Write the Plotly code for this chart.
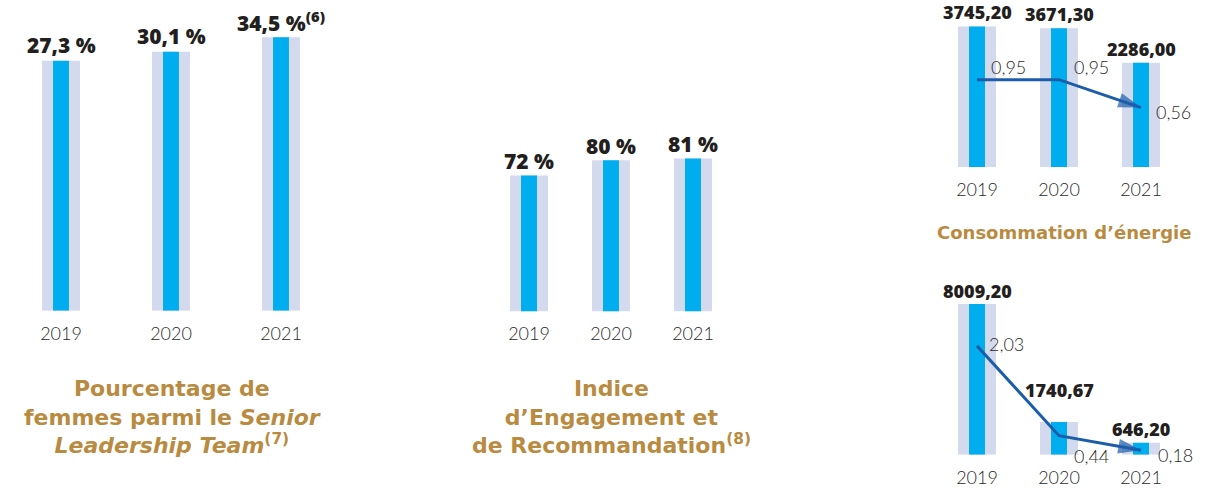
import plotly.graph_objects as go

# ---------------- data ----------------
years = ["2019", "2020", "2021"]

women_slt_pct = [27.3, 30.1, 34.5]          # % women in Senior Leadership Team
women_slt_notes = ["", "", "(6)"]

engagement_pct = [72, 80, 81]                # Engagement & Recommendation index

energy_values = [3745.20, 3671.30, 2286.00]  # Consommation d'énergie
energy_ratio = [0.95, 0.95, 0.56]

panel4_values = [8009.20, 1740.67, 646.20]
panel4_ratio = [2.03, 0.44, 0.18]

titles = [
    "<b>Pourcentage de<br>femmes parmi le <i>Senior</i><br><i>Leadership Team</i><sup>(7)</sup></b>",
    "<b>Indice<br>d\u2019Engagement et<br>de Recommandation<sup>(8)</sup></b>",
    "<b>Consommation d\u2019énergie</b>",
]

# ---------------- style ----------------
W, H = 1227, 488
BLUE = "#00AEEF"
LAV = "#D4DAED"
GOLD = "#B98B41"
LINE = "#1C5DAA"
TXT = "#231F20"
BOLD_FONT = "Open Sans"
TITLE_FONT = "DejaVu Sans"
LIGHT_FONT = "Lato"

BASE1 = -49.2     # visual baseline of panel 1 scale
BASE3 = -1904.0   # visual baseline of panel 3 scale


def xd(a, b):
    return [a / W, b / W]


def yd(top, bottom):
    return [1 - bottom / H, 1 - top / H]


def fr2(v):
    return f"{v:.2f}".replace(".", ",")


fig = go.Figure()


def add_bars(xa, ya, vals, base, wl, wb):
    ys = [v - base for v in vals]
    fig.add_trace(go.Bar(x=years, y=ys, base=base, width=wl, marker_color=LAV,
                         marker_line_width=0, xaxis=xa, yaxis=ya, showlegend=False,
                         hoverinfo="skip"))
    fig.add_trace(go.Bar(x=years, y=ys, base=base, width=wb, marker_color=BLUE,
                         marker_line_width=0, xaxis=xa, yaxis=ya, showlegend=False,
                         hoverinfo="skip"))


def add_line(xa, ya, vals):
    fig.add_trace(go.Scatter(
        x=years, y=vals, mode="lines+markers", xaxis=xa, yaxis=ya,
        line=dict(color=LINE, width=3),
        marker=dict(symbol=["circle", "circle", "arrow"], size=[0, 0, 24],
                    angleref="previous", color=LINE, line_width=0),
        cliponaxis=False, showlegend=False, hoverinfo="skip"))


add_bars("x", "y", women_slt_pct, BASE1, 0.345, 0.145)
add_bars("x2", "y2", engagement_pct, 0, 0.463, 0.195)
add_bars("x3", "y3", energy_values, BASE3, 0.463, 0.195)
add_line("x3", "y4", energy_ratio)
add_bars("x4", "y5", panel4_values, 0, 0.463, 0.195)
add_line("x4", "y6", panel4_ratio)

annotations = []
vfont_big = dict(family=BOLD_FONT, size=21, color=TXT, weight=800)
vfont_small = dict(family=BOLD_FONT, size=18, color=TXT, weight=800)
rfont = dict(family=LIGHT_FONT, size=18, color="#2a2a2a", weight=300)

# panel 1 value labels
for i, (v, note) in enumerate(zip(women_slt_pct, women_slt_notes)):
    t = f"{v:.1f}".replace(".", ",") + " %" + (f"<sup>{note}</sup>" if note else "")
    annotations.append(dict(x=i, y=v, xref="x", yref="y", text=t, showarrow=False,
                            yanchor="middle", yshift=16, font=vfont_big))
# panel 2 value labels
for i, v in enumerate(engagement_pct):
    annotations.append(dict(x=i, y=v, xref="x2", yref="y2", text=f"{v:.0f} %",
                            showarrow=False, yanchor="middle", yshift=14, font=vfont_big))
# panel 3 value labels
for i, v in enumerate(energy_values):
    annotations.append(dict(x=i, y=v, xref="x3", yref="y3", text=fr2(v),
                            showarrow=False, yanchor="middle", yshift=14, font=vfont_small))
# panel 4 value labels
p4_shift = [13, 32, 14]
for i, (v, s) in enumerate(zip(panel4_values, p4_shift)):
    annotations.append(dict(x=i, y=v, xref="x4", yref="y5", text=fr2(v),
                            showarrow=False, yanchor="middle", yshift=s, font=vfont_small))
# ratio labels
r3_off = [(12, 13), (13, 13), (13, -4)]
for i, (v, (dx, dy)) in enumerate(zip(energy_ratio, r3_off)):
    annotations.append(dict(x=i, y=v, xref="x3", yref="y4", text=fr2(v), showarrow=False,
                            xanchor="left", yanchor="middle", xshift=dx, yshift=dy, font=rfont))
r4_off = [(10, 2), (13, -20), (15, -5)]
for i, (v, (dx, dy)) in enumerate(zip(panel4_ratio, r4_off)):
    annotations.append(dict(x=i, y=v, xref="x4", yref="y6", text=fr2(v), showarrow=False,
                            xanchor="left", yanchor="middle", xshift=dx, yshift=dy, font=rfont))
# titles
annotations.append(dict(x=172 / W, y=1 - 419 / H, xref="paper", yref="paper", text=titles[0],
                        showarrow=False, xanchor="center", yanchor="middle", align="center",
                        font=dict(family=TITLE_FONT, size=22, color=GOLD)))
annotations.append(dict(x=611 / W, y=1 - 419 / H, xref="paper", yref="paper", text=titles[1],
                        showarrow=False, xanchor="center", yanchor="middle", align="center",
                        font=dict(family=TITLE_FONT, size=22, color=GOLD)))
annotations.append(dict(x=1064 / W, y=1 - 233 / H, xref="paper", yref="paper", text=titles[2],
                        showarrow=False, xanchor="center", yanchor="middle", align="center",
                        font=dict(family=TITLE_FONT, size=18, color=GOLD)))

tickfont = dict(family=LIGHT_FONT, size=18, color="#2a2a2a", weight=300)
xcommon = dict(type="category", showgrid=False, zeroline=False, showline=False,
               ticks="", tickfont=tickfont, range=[-0.5, 2.5], fixedrange=True,
               ticklabelstandoff=10)
ycommon = dict(showgrid=False, zeroline=False, showline=False, showticklabels=False,
               ticks="", fixedrange=True)

fig.update_layout(
    width=W, height=H, margin=dict(l=0, r=0, t=0, b=0),
    paper_bgcolor="white", plot_bgcolor="rgba(0,0,0,0)",
    barmode="overlay", showlegend=False,
    xaxis=dict(domain=xd(6, 336), anchor="y", **xcommon),
    yaxis=dict(domain=yd(5, 312), anchor="x", range=[BASE1, BASE1 + 307 / 3.28], **ycommon),
    xaxis2=dict(domain=xd(488, 734), anchor="y2", **xcommon),
    yaxis2=dict(domain=yd(100, 312.7), anchor="x2", range=[0, 212.7 / 1.897], **ycommon),
    xaxis3=dict(domain=xd(936, 1182), anchor="y3", **xcommon),
    yaxis3=dict(domain=yd(0, 167.7), anchor="x3", range=[BASE3, BASE3 + 167.7 / 0.02499], **ycommon),
    yaxis4=dict(overlaying="y3", anchor="x3", side="right",
                range=[-(167.7 - 148.2) / 71.8, 148.2 / 71.8], visible=False, **ycommon),
    xaxis4=dict(domain=xd(936, 1182), anchor="y5", **xcommon),
    yaxis5=dict(domain=yd(280, 456.7), anchor="x4", range=[0, 176.7 / 0.0189], **ycommon),
    yaxis6=dict(overlaying="y5", anchor="x4", side="right",
                range=[(462.4 - 456.7) / 56.7, (462.4 - 280) / 56.7], visible=False, **ycommon),
    annotations=annotations,
)

fig.write_html("out.html", config={"displayModeBar": False},
               post_script="document.body.style.margin='0';document.body.style.overflow='hidden';")
